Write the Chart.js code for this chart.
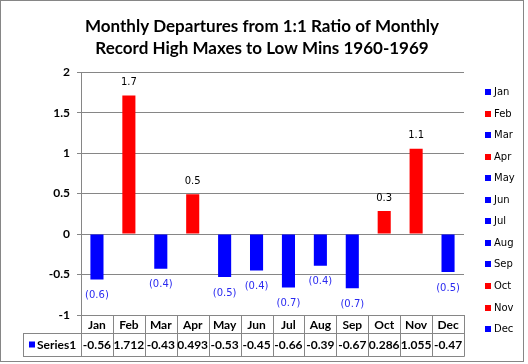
<!DOCTYPE html>
<html><head><meta charset="utf-8">
<script src="https://cdn.jsdelivr.net/npm/chart.js@4.4.1/dist/chart.umd.min.js"></script>
<style>html,body{margin:0;padding:0;background:#fff;}#wrap{width:528px;height:364px;position:relative;}</style>
</head><body><div id="wrap"><canvas id="c" width="528" height="364"></canvas></div>
<script>
const titleLines = ['Monthly Departures from 1:1 Ratio of Monthly', 'Record High Maxes to Low Mins 1960-1969'];
const categories = ['Jan','Feb','Mar','Apr','May','Jun','Jul','Aug','Sep','Oct','Nov','Dec'];
const seriesName = 'Series1';
const values = [-0.56, 1.712, -0.43, 0.493, -0.53, -0.45, -0.66, -0.39, -0.67, 0.286, 1.055, -0.47];
const tableLabels = ['-0.56','1.712','-0.43','0.493','-0.53','-0.45','-0.66','-0.39','-0.67','0.286','1.055','-0.47'];
const dataLabels = ['(0.6)','1.7','(0.4)','0.5','(0.5)','(0.4)','(0.7)','(0.4)','(0.7)','0.3','1.1','(0.5)'];
const yMin = -1, yMax = 2, yStep = 0.5;

const POS = '#FF0000', NEG = '#0000FF', GRID = '#868686';
const barColors = values.map(v => v >= 0 ? POS : NEG);
const CAL = 'Lato, "Open Sans", sans-serif';
const TAH = '"DejaVu Sans", sans-serif';

function hline(ctx, x1, x2, y){ ctx.beginPath(); ctx.moveTo(x1, Math.round(y)+0.5); ctx.lineTo(x2, Math.round(y)+0.5); ctx.stroke(); }
function vline(ctx, x, y1, y2){ ctx.beginPath(); ctx.moveTo(Math.round(x)+0.5, y1); ctx.lineTo(Math.round(x)+0.5, y2); ctx.stroke(); }

const framePlugin = {
  id: 'frame',
  beforeDraw(chart){ const c = chart.ctx; c.save(); c.fillStyle = '#fff'; c.fillRect(0,0,chart.width,chart.height); c.restore(); },
  afterDraw(chart){ const c = chart.ctx; c.save(); c.strokeStyle = GRID; c.lineWidth = 1; c.strokeRect(0.5,0.5,523,361); c.restore(); }
};

const tablePlugin = {
  id: 'table',
  afterDraw(chart){
    const c = chart.ctx, xs = chart.scales.x, a = chart.chartArea;
    const n = categories.length, cw = (a.right - a.left) / n;
    const top = a.bottom, r1 = top + 18, r2 = top + 41, leftX = 23;
    c.save();
    c.strokeStyle = GRID; c.lineWidth = 1;
    hline(c, a.left, a.right, top);
    hline(c, leftX, a.right + 0.5, r1);
    hline(c, leftX, a.right + 0.5, r2);
    vline(c, leftX, r1, r2 + 0.5);
    for (let i = 0; i <= n; i++) {
      const bx = (i < n ? xs.getPixelForValue(i) - cw/2 : xs.getPixelForValue(n-1) + cw/2);
      vline(c, bx, top, r2 + 0.5);
    }
    c.fillStyle = '#000';
    c.font = 'bold 12px ' + CAL;
    c.textAlign = 'center'; c.textBaseline = 'middle';
    for (let i = 0; i < n; i++) {
      const cx = xs.getPixelForValue(i);
      c.fillText(categories[i], cx, (top + r1)/2 + 1);
      c.fillText(tableLabels[i], cx, (r1 + r2)/2 + 1);
    }
    c.fillStyle = NEG;
    c.fillRect(29, (r1+r2)/2 - 3, 6, 6);
    c.fillStyle = '#000';
    c.textAlign = 'left';
    c.fillText(seriesName, 37, (r1 + r2)/2 + 1);
    c.restore();
  }
};

const labelPlugin = {
  id: 'barLabels',
  afterDatasetsDraw(chart){
    const c = chart.ctx, meta = chart.getDatasetMeta(0);
    c.save();
    c.font = '10px ' + TAH; c.textAlign = 'center'; c.textBaseline = 'middle';
    meta.data.forEach((bar, i) => {
      const v = values[i];
      if (v >= 0) { c.fillStyle = '#000'; c.fillText(dataLabels[i], bar.x, bar.y - 13); }
      else { c.fillStyle = '#2a2af0'; c.fillText(dataLabels[i], bar.x, bar.y + 16); }
    });
    c.restore();
  }
};

const legendPlugin = {
  id: 'sideLegend',
  afterDraw(chart){
    const c = chart.ctx, a = chart.chartArea;
    const x0 = a.right + 21, y0 = 92, step = 21.55;
    c.save();
    c.font = '10px ' + TAH; c.textAlign = 'left'; c.textBaseline = 'middle';
    categories.forEach((m, i) => {
      const y = y0 + i * step;
      c.fillStyle = barColors[i];
      c.fillRect(x0, Math.round(y) - 3, 6, 6);
      c.fillStyle = '#000';
      c.fillText(m, x0 + 9, y + 0.5);
    });
    c.restore();
  }
};

new Chart(document.getElementById('c'), {
  type: 'bar',
  data: { labels: categories, datasets: [{ label: seriesName, data: values, backgroundColor: barColors, borderWidth: 0, barPercentage: 0.41, categoryPercentage: 1 }] },
  options: {
    responsive: false, animation: false, devicePixelRatio: 1,
    layout: { padding: { left: 0, right: 4, top: 0, bottom: 0 } },
    plugins: {
      legend: { display: false }, tooltip: { enabled: false },
      title: { display: true, text: titleLines, color: '#000', font: { family: CAL, size: 17, weight: 'bold', lineHeight: 1.3 }, padding: { top: 15, bottom: 13 } }
    },
    scales: {
      x: { ticks: { display: false }, grid: { display: false }, border: { display: false }, afterFit(s){ s.height = 49; } },
      y: { min: yMin, max: yMax, ticks: { stepSize: yStep, color: '#000', font: { family: CAL, size: 12, weight: 'bold' }, padding: 7,
             callback: v => String(Math.round(v * 100) / 100) },
           grid: { color: GRID, tickLength: 4 }, border: { color: GRID }, afterFit(s){ s.width = 81; } },
      legendSpace: { type: 'linear', position: 'right', display: true, ticks: { display: false }, grid: { display: false }, border: { display: false },
           afterFit(s){ s.width = 60; } }
    }
  },
  plugins: [framePlugin, tablePlugin, labelPlugin, legendPlugin]
});
</script></body></html>
